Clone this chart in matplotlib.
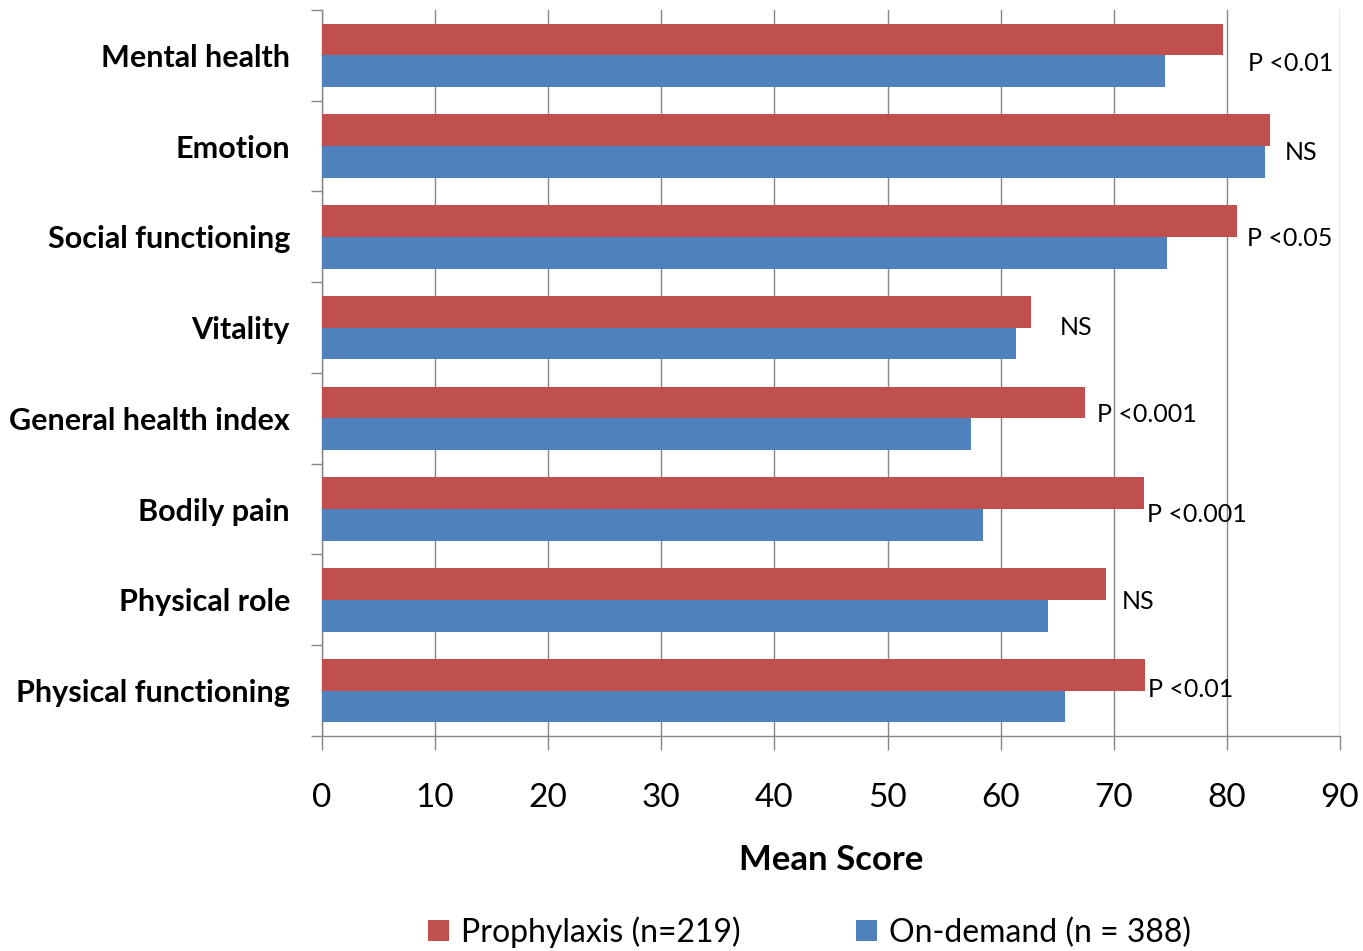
import matplotlib
matplotlib.use("Agg")
import matplotlib.pyplot as plt
import numpy as np

plt.rcParams["font.family"] = ["Lato", "DejaVu Sans"]

categories = [
    "Mental health",
    "Emotion",
    "Social functioning",
    "Vitality",
    "General health index",
    "Bodily pain",
    "Physical role",
    "Physical functioning",
]
prophylaxis = [79.7, 83.8, 80.9, 62.7, 67.5, 72.7, 69.3, 72.8]
on_demand = [74.5, 83.4, 74.7, 61.4, 57.4, 58.4, 64.2, 65.7]
p_labels = ["P <0.01", "NS", "P <0.05", "NS", "P <0.001", "P <0.001", "NS", "P <0.01"]

# where each significance label sits (x start, vertical nudge within the row)
label_x = [81.9, 85.1, 81.8, 65.2, 68.5, 72.9, 70.7, 73.0]
label_dy = [0.09, 0.07, 0.02, 0.0, -0.04, 0.06, 0.02, -0.01]

red = "#C0504D"
blue = "#4F81BD"
grid_c = "#868686"

fig = plt.figure(figsize=(13.63, 9.51), dpi=100)
ax = fig.add_axes([0.2362, 0.2261, 0.7469, 0.7634])

y = np.arange(len(categories))
h = 0.35
ax.barh(y - h / 2, prophylaxis, height=h, color=red, label="Prophylaxis (n=219)", zorder=3)
ax.barh(y + h / 2, on_demand, height=h, color=blue, label="On-demand (n = 388)", zorder=3)

for yi, txt, lx, dy in zip(y, p_labels, label_x, label_dy):
    ax.text(lx, yi + dy, txt, fontsize=18, va="center", ha="left", zorder=4)

ax.set_xlim(0, 90)
ax.set_ylim(len(categories) - 0.5, -0.5)
ax.set_xticks(np.arange(0, 91, 10))
ax.tick_params(axis="x", labelsize=24, length=10, width=1, color=grid_c, direction="out", pad=24)
ax.grid(True, axis="x", color=grid_c, linewidth=1, zorder=0)

# category labels centred, boundary ticks on the left spine
ax.set_yticks(y)
ax.set_yticklabels(categories, fontsize=22, fontweight="bold")
ax.tick_params(axis="y", length=0, pad=23)
ax.set_yticks(np.arange(-0.5, len(categories), 1), minor=True)
ax.tick_params(axis="y", which="minor", length=8, width=1, color=grid_c, direction="out")

for side in ["top", "right"]:
    ax.spines[side].set_visible(False)
for side in ["left", "bottom"]:
    ax.spines[side].set_color(grid_c)
    ax.spines[side].set_linewidth(1)

ax.set_xlabel("Mean Score", fontsize=25, fontweight="bold", labelpad=22)

handles, labels = ax.get_legend_handles_labels()
fig.legend(handles, labels, loc="lower center", bbox_to_anchor=(0.594, -0.027), ncol=2,
           frameon=False, fontsize=23, handlelength=0.65, handleheight=0.65,
           handletextpad=0.4, columnspacing=3.6)

fig.savefig("out.png", dpi=100)
